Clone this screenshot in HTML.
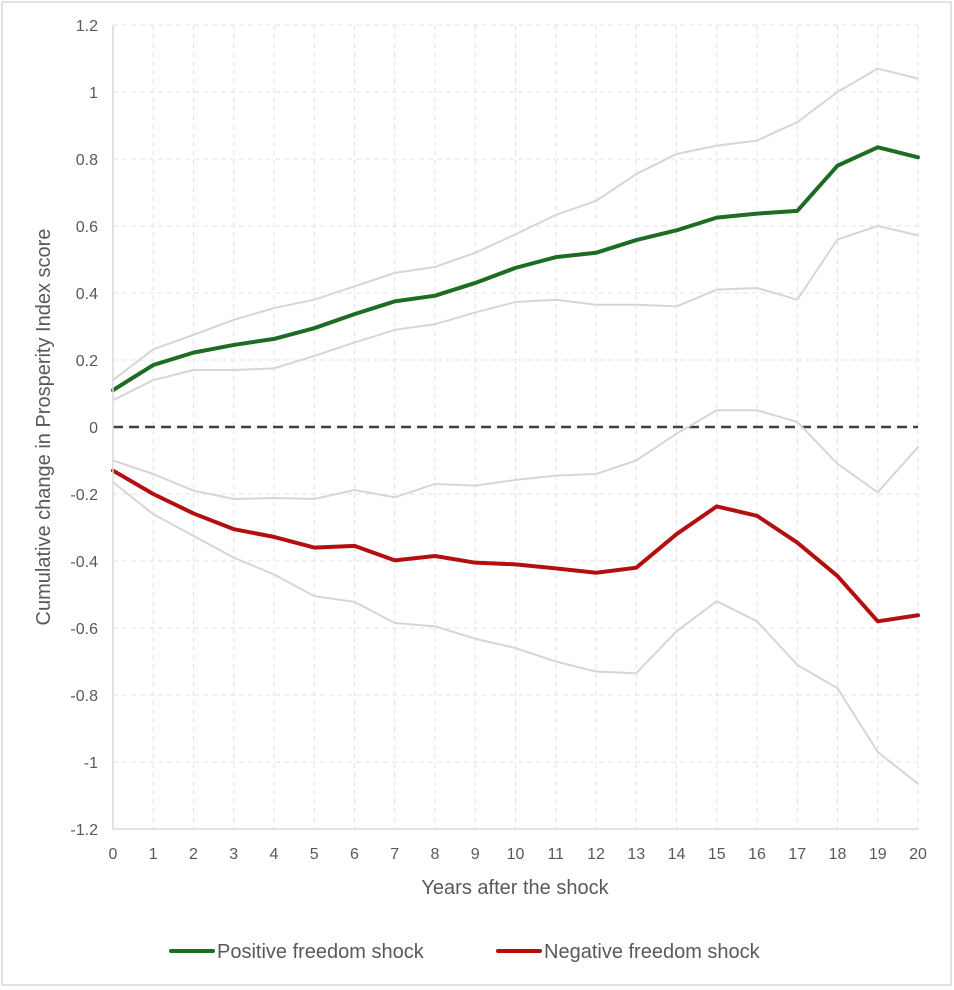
<!DOCTYPE html>
<html><head><meta charset="utf-8"><style>
body{margin:0;background:#fff;}
svg{display:block;font-family:"Liberation Sans",sans-serif;}
</style></head><body>
<svg id="chart" width="954" height="990" xmlns="http://www.w3.org/2000/svg">
<rect x="2" y="2" width="949" height="983" fill="#fff" stroke="#d9d9d9" stroke-width="1.5"/>
<g id="grid"></g>
<g id="series"></g>
<g id="axes"></g>
<text x="50" y="427" transform="rotate(-90 50 427)" text-anchor="middle" font-size="20" fill="#595959">Cumulative change in Prosperity Index score</text>
<text x="515" y="894" text-anchor="middle" font-size="20" fill="#595959">Years after the shock</text>
<g>
<g>
<line x1="171" y1="951" x2="213" y2="951" stroke="#1e6b23" stroke-width="4" stroke-linecap="round"/>
<text x="217" y="958" font-size="20" fill="#595959">Positive freedom shock</text></g>
<g>
<line x1="498" y1="951" x2="540" y2="951" stroke="#b40f0f" stroke-width="4" stroke-linecap="round"/>
<text x="544" y="958" font-size="20" fill="#595959">Negative freedom shock</text></g>
</g>
</svg>
<script>
const years=[0,1,2,3,4,5,6,7,8,9,10,11,12,13,14,15,16,17,18,19,20];
const yTicks=[1.2,1,0.8,0.6,0.4,0.2,0,-0.2,-0.4,-0.6,-0.8,-1,-1.2];
const positive=[0.11,0.185,0.222,0.245,0.263,0.295,0.337,0.375,0.392,0.43,0.475,0.507,0.52,0.558,0.587,0.625,0.637,0.645,0.78,0.835,0.805];
const positiveUpper=[0.14,0.232,0.275,0.32,0.355,0.38,0.42,0.46,0.478,0.52,0.575,0.633,0.675,0.755,0.815,0.84,0.855,0.91,1.0,1.07,1.04];
const positiveLower=[0.08,0.14,0.17,0.17,0.175,0.212,0.252,0.29,0.307,0.342,0.373,0.38,0.365,0.365,0.36,0.41,0.415,0.38,0.56,0.6,0.572];
const negative=[-0.13,-0.2,-0.258,-0.305,-0.328,-0.36,-0.355,-0.398,-0.385,-0.405,-0.41,-0.422,-0.435,-0.42,-0.32,-0.237,-0.265,-0.345,-0.445,-0.58,-0.562];
const negativeUpper=[-0.1,-0.14,-0.19,-0.215,-0.212,-0.215,-0.188,-0.21,-0.17,-0.175,-0.158,-0.145,-0.14,-0.1,-0.02,0.05,0.05,0.015,-0.11,-0.195,-0.06];
const negativeLower=[-0.165,-0.26,-0.325,-0.39,-0.44,-0.505,-0.522,-0.585,-0.595,-0.632,-0.66,-0.7,-0.73,-0.735,-0.61,-0.52,-0.58,-0.71,-0.78,-0.97,-1.065];

const X0=113,X1=918,Y0=25,Y1=829,ymin=-1.2,ymax=1.2;
const xs=v=>X0+(v-years[0])/(years[years.length-1]-years[0])*(X1-X0);
const ys=v=>Y1-(v-ymin)/(ymax-ymin)*(Y1-Y0);
const NS="http://www.w3.org/2000/svg";
function mk(tag,attrs,parent){const e=document.createElementNS(NS,tag);for(const k in attrs)e.setAttribute(k,attrs[k]);parent.appendChild(e);return e;}
const grid=document.getElementById('grid'),axes=document.getElementById('axes'),ser=document.getElementById('series');
yTicks.forEach(t=>{
 const y=ys(t);
 if(t!==0&&t!==ymin){const g=mk('line',{x1:X0,x2:X1,y1:y,y2:y,stroke:'#e3e3e3','stroke-dasharray':'5,4'},grid);
 
 }
 const tx=mk('text',{x:X0-15,y:y+6,'text-anchor':'end','font-size':16,fill:'#595959'},axes);
 tx.textContent=String(t);
 
 
});
years.forEach(v=>{
 const x=xs(v);
 if(v!==0){const g=mk('line',{x1:x,x2:x,y1:Y0,y2:Y1,stroke:'#e3e3e3','stroke-dasharray':'5,4'},grid);
 
 }
 const tx=mk('text',{x:x,y:Y1+30,'text-anchor':'middle','font-size':16,fill:'#595959'},axes);
 tx.textContent=String(v);
 
 
});
const ax=mk('path',{d:`M${X0},${Y0}V${Y1}H${X1}`,fill:'none',stroke:'#d9d9d9','stroke-width':1.5},axes);


const zl=mk('line',{x1:X0,x2:X1,y1:ys(0),y2:ys(0),stroke:'#404040','stroke-width':2.5,'stroke-dasharray':'10,6'},ser);


function line(arr,color,w,name){
 const d=arr.map((v,i)=>(i?'L':'M')+xs(years[i])+','+ys(v)).join('');
 const p=mk('path',{d:d,fill:'none',stroke:color,'stroke-width':w,'stroke-linejoin':'round','stroke-linecap':'round'},ser);
 
 
}
line(positiveUpper,'#d6d6d6',2,'positive-upper-bound');
line(positiveLower,'#d6d6d6',2,'positive-lower-bound');
line(negativeUpper,'#d6d6d6',2,'negative-upper-bound');
line(negativeLower,'#d6d6d6',2,'negative-lower-bound');
line(positive,'#1e6b23',4,'positive-shock-line');
line(negative,'#b40f0f',4,'negative-shock-line');
</script>
</body></html>
